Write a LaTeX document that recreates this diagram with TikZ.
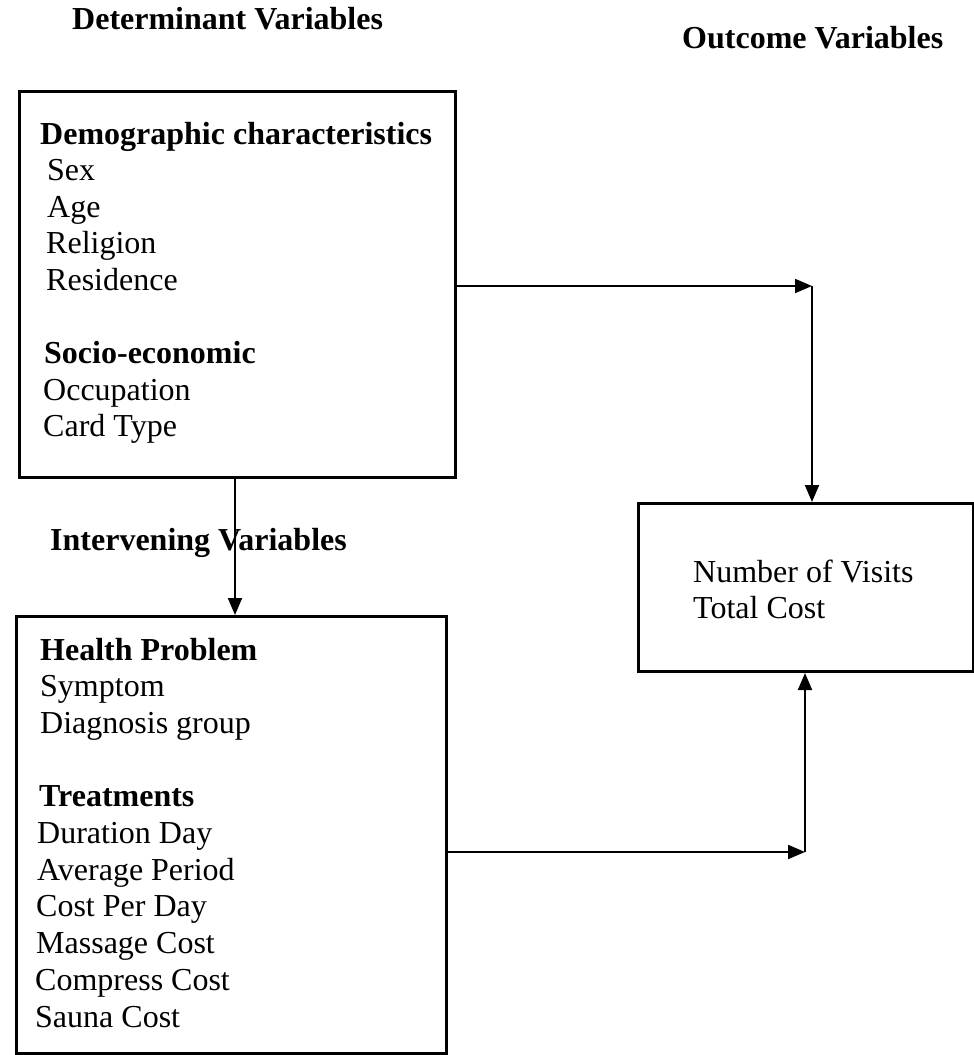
\documentclass[tikz,border=0pt]{standalone}
\usepackage{fontspec}
\setmainfont{Liberation Serif}
\usetikzlibrary{arrows.meta}
\begin{document}
\begin{tikzpicture}[x=1pt,y=-1pt,
  box/.style={draw,line width=3pt,inner sep=0pt,anchor=north west},
  txt/.style={anchor=base west,inner sep=0pt,font=\fontsize{32}{37}\selectfont},
  hd/.style={anchor=base west,inner sep=0pt,font=\fontsize{32}{37}\selectfont\bfseries},
  conn/.style={line width=2pt,-{Triangle[length=17pt,width=14pt]}}]
\useasboundingbox (0,0) rectangle (974,1055);
% headers
\node[hd] (hdet) at (72,29) {Determinant Variables};
\node[hd] (hout) at (682,48) {Outcome Variables};
\node[hd] (hint) at (50,550) {Intervening Variables};
% boxes
\node[box,minimum width=436pt,minimum height=386pt] (top) at (18,90) {};
\node[box,minimum width=430pt,minimum height=437pt] (bot) at (15,615) {};
\node[box,minimum width=335pt,minimum height=168pt] (rbox) at (637,502) {};
% top box text
\node[hd]  (t1) at (40,144) {Demographic characteristics};
\node[txt] (t2) at (47,180.6) {Sex};
\node[txt] (t3) at (47,217.2) {Age};
\node[txt] (t4) at (46,253.8) {Religion};
\node[txt] (t5) at (46,290.4) {Residence};
\node[hd]  (t6) at (44,363.6) {Socio-economic};
\node[txt] (t7) at (43,400.2) {Occupation};
\node[txt] (t8) at (43,436.8) {Card Type};
% bottom box text
\node[hd]  (b1) at (40,660) {Health Problem};
\node[txt] (b2) at (40,696.7) {Symptom};
\node[txt] (b3) at (40,733.4) {Diagnosis group};
\node[hd]  (b4) at (39,806.8) {Treatments};
\node[txt] (b5) at (37,843.5) {Duration Day};
\node[txt] (b6) at (37,880.2) {Average Period};
\node[txt] (b7) at (36,916.9) {Cost Per Day};
\node[txt] (b8) at (36,953.6) {Massage Cost};
\node[txt] (b9) at (35,990.3) {Compress Cost};
\node[txt] (b10) at (35,1027) {Sauna Cost};
% right box text
\node[txt] (r1) at (693,582) {Number of Visits};
\node[txt] (r2) at (693,618) {Total Cost};
% connectors
\coordinate (c1) at (812,286);
\coordinate (c2) at (805,852);
\coordinate (c3) at (235,0);
\draw[conn] (top.east |- c1) -- (c1);
\draw[conn] (c1) -- (c1 |- rbox.north);
\draw[conn] (bot.east |- c2) -- (c2);
\draw[conn] (c2) -- (c2 |- rbox.south);
\draw[conn] (top.south -| c3) -- (bot.north -| c3);
\end{tikzpicture}
\end{document}
